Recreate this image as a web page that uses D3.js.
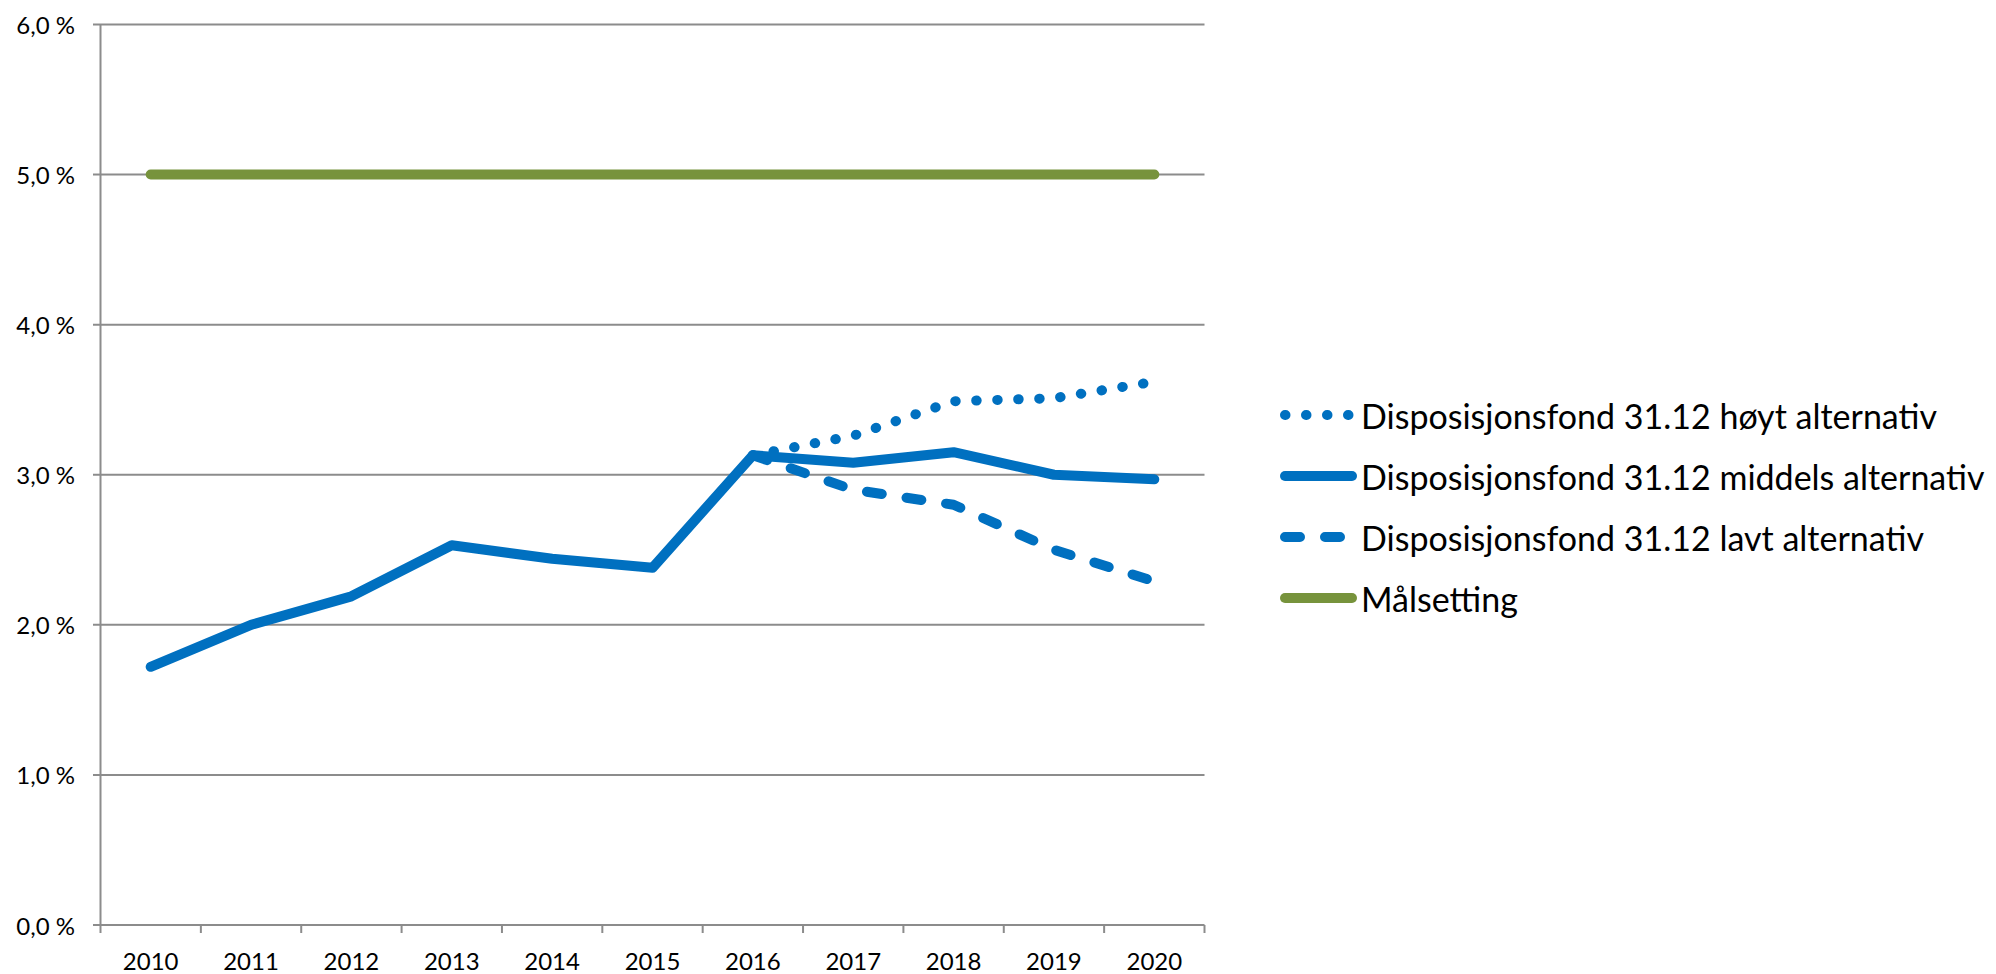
<!DOCTYPE html>
<html>
<head>
<meta charset="utf-8">
<script src="https://cdn.jsdelivr.net/npm/d3@7"></script>
<style>
  body { margin: 0; background: #fff; }
  text { font-family: Lato, "Open Sans", sans-serif; fill: #000; }
</style>
</head>
<body>
<svg width="1996" height="974"></svg>
<script>
const years = ["2010", "2011", "2012", "2013", "2014", "2015", "2016", "2017", "2018", "2019", "2020"]
const hoyt = [null, null, null, null, null, null, 3.13, 3.26, 3.49, 3.51, 3.62]
const middels = [1.72, 2.00, 2.19, 2.53, 2.44, 2.38, 3.13, 3.08, 3.15, 3.00, 2.97]
const lavt = [null, null, null, null, null, null, 3.13, 2.90, 2.80, 2.50, 2.29]
const malsetting = [5.0, 5.0, 5.0, 5.0, 5.0, 5.0, 5.0, 5.0, 5.0, 5.0, 5.0]
const yTicks = [0, 1, 2, 3, 4, 5, 6]
const seriesNames = [
  "Disposisjonsfond 31.12 høyt alternativ",
  "Disposisjonsfond 31.12 middels alternativ",
  "Disposisjonsfond 31.12 lavt alternativ",
  "Målsetting"
]

const svg = d3.select("svg")
const gridColor = "#8c8c8c"
const blue = "#0070c0"
const green = "#77933c"

const x = d3.scaleBand().domain(years).range([100.5, 1204.5])
const y = d3.scaleLinear().domain([0, 6]).range([925, 24.5])

// gridlines + y ticks
svg.append("g").selectAll("line")
  .data(yTicks)
  .join("line")
  .attr("x1", 93).attr("x2", 1204.5)
  .attr("y1", d => y(d)).attr("y2", d => y(d))
  .attr("stroke", gridColor).attr("stroke-width", 2)

svg.append("g").selectAll("text")
  .data(yTicks)
  .join("text")
  .attr("x", 75)
  .attr("y", d => y(d))
  .attr("text-anchor", "end")
  .attr("dominant-baseline", "central")
  .style("font-size", "24px")
  .text(d => d3.format(".1f")(d).replace(".", ",") + " %")

// y axis line
svg.append("line")
  .attr("x1", 100.5).attr("x2", 100.5)
  .attr("y1", y(6)).attr("y2", y(0))
  .attr("stroke", gridColor).attr("stroke-width", 2)

// x ticks at band edges
const edges = years.map(d => x(d)).concat([x.range()[1]])
svg.append("g").selectAll("line")
  .data(edges)
  .join("line")
  .attr("x1", d => d).attr("x2", d => d)
  .attr("y1", y(0)).attr("y2", y(0) + 8)
  .attr("stroke", gridColor).attr("stroke-width", 2)

svg.append("g").selectAll("text")
  .data(years)
  .join("text")
  .attr("x", d => x(d) + x.bandwidth() / 2)
  .attr("y", 960)
  .attr("text-anchor", "middle")
  .attr("dominant-baseline", "central")
  .style("font-size", "24px")
  .text(d => d)

// series lines
const line = d3.line()
  .defined(d => d.v != null)
  .x(d => x(d.year) + x.bandwidth() / 2)
  .y(d => y(d.v))

const series = [
  { name: seriesNames[0], values: hoyt, color: blue, dash: "0.5,20.5" },
  { name: seriesNames[1], values: middels, color: blue, dash: null },
  { name: seriesNames[2], values: lavt, color: blue, dash: "15,25" },
  { name: seriesNames[3], values: malsetting, color: green, dash: null }
]

svg.append("g").selectAll("path")
  .data(series)
  .join("path")
  .attr("d", s => line(s.values.map((v, i) => ({ year: years[i], v: v }))))
  .attr("fill", "none")
  .attr("stroke", s => s.color)
  .attr("stroke-width", 10)
  .attr("stroke-linecap", "round")
  .attr("stroke-linejoin", "round")
  .attr("stroke-dasharray", s => s.dash)

// legend
const legend = svg.append("g").selectAll("g")
  .data(series)
  .join("g")
  .attr("transform", (s, i) => `translate(0, ${415 + i * 61})`)

legend.append("line")
  .attr("x1", 1285).attr("x2", 1352)
  .attr("stroke", s => s.color)
  .attr("stroke-width", 10)
  .attr("stroke-linecap", "round")
  .attr("stroke-dasharray", s => s.dash)

legend.append("text")
  .attr("x", 1361)
  .attr("dominant-baseline", "central")
  .style("font-size", "34px")
  .text(s => s.name)
</script>
</body>
</html>
